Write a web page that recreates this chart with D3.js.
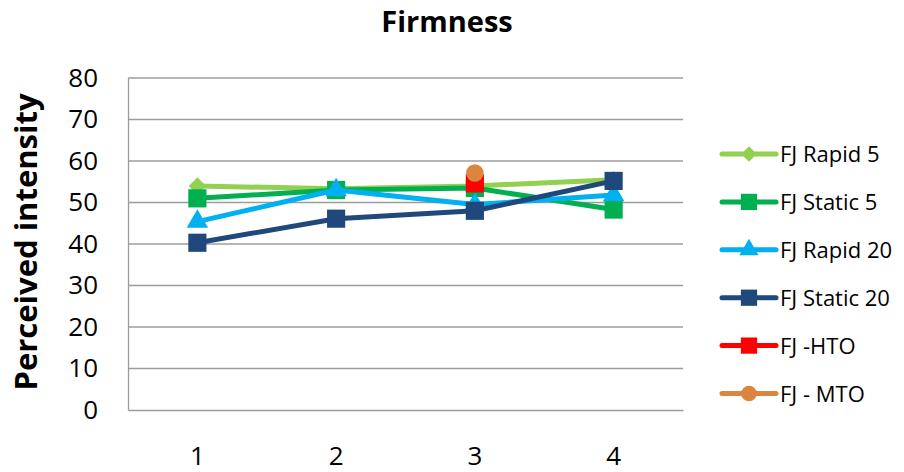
<!DOCTYPE html>
<html>
<head>
<meta charset="utf-8">
<script src="https://cdn.jsdelivr.net/npm/d3@7"></script>
<style>
  html, body { margin: 0; padding: 0; background: #fff; }
  svg { display: block; font-family: "Open Sans", "Noto Sans", sans-serif; }
</style>
</head>
<body>
<svg id="chart" width="904" height="472"></svg>
<script>
// Sampling sessions along the x axis
const categories = ["1", "2", "3", "4"];

// Perceived firmness per product
const rapid5   = [54.0, 53.3, 54.0, 55.5];
const static5  = [51.0, 53.0, 53.5, 48.3];
const rapid20  = [45.4, 53.0, 49.5, 51.8];
const static20 = [40.3, 46.1, 48.0, 55.2];
const hto      = [null, null, 54.6, null];
const mto      = [null, null, 57.1, null];

const seriesNames = ["FJ Rapid 5", "FJ Static 5", "FJ Rapid 20", "FJ Static 20", "FJ -HTO", "FJ - MTO"];
const yTicks = [0, 10, 20, 30, 40, 50, 60, 70, 80];

const series = [
  { name: seriesNames[0], values: rapid5,   color: "#92D050", symbol: d3.symbolDiamond2 },
  { name: seriesNames[1], values: static5,  color: "#00B050", symbol: d3.symbolSquare },
  { name: seriesNames[2], values: rapid20,  color: "#00B0F0", symbol: d3.symbolTriangle },
  { name: seriesNames[3], values: static20, color: "#1F497D", symbol: d3.symbolSquare },
  { name: seriesNames[4], values: hto,      color: "#FF0000", symbol: d3.symbolSquare },
  { name: seriesNames[5], values: mto,      color: "#DC853E", symbol: d3.symbolCircle }
];

const svg = d3.select("#chart");
const plot = { left: 128, right: 683, top: 78, bottom: 410 };

const x = d3.scaleBand().domain(categories).range([plot.left, plot.right]);
const y = d3.scaleLinear().domain([0, 80]).range([plot.bottom, plot.top]);
const cx = c => x(c) + x.bandwidth() / 2;

// Title
svg.append("text")
  .attr("x", 447).attr("y", 32)
  .attr("text-anchor", "middle")
  .attr("font-size", 29).attr("font-weight", "bold")
  .attr("fill", "#000")
  .text("Firmness");

// Horizontal gridlines
svg.append("g")
  .selectAll("line")
  .data(yTicks.filter(t => t > 0))
  .join("line")
  .attr("x1", plot.left).attr("x2", plot.right)
  .attr("y1", d => y(d)).attr("y2", d => y(d))
  .attr("stroke", "#9c9c9c").attr("stroke-width", 1.3);

// Y axis
const yAxis = svg.append("g")
  .attr("transform", `translate(${plot.left},0)`)
  .call(d3.axisLeft(y).tickValues(yTicks).tickSize(0).tickPadding(30));
yAxis.select(".domain").attr("stroke", "#9c9c9c").attr("stroke-width", 1.3);
yAxis.selectAll("text")
  .attr("font-size", 26).attr("font-family", "Open Sans")
  .attr("fill", "#000");

// X axis
const xAxis = svg.append("g")
  .attr("transform", `translate(0,${plot.bottom})`)
  .call(d3.axisBottom(x).tickSize(0).tickPadding(0));
xAxis.select(".domain").attr("stroke", "#9c9c9c").attr("stroke-width", 1.3);
xAxis.selectAll("text")
  .attr("font-size", 26).attr("font-family", "Open Sans")
  .attr("fill", "#000")
  .attr("dy", null)
  .attr("y", 55);

// Y axis title
svg.append("text")
  .attr("transform", `translate(37,${(plot.top + plot.bottom) / 2 - 2}) rotate(-90)`)
  .attr("text-anchor", "middle")
  .attr("font-size", 31).attr("font-weight", "bold")
  .attr("fill", "#000")
  .text("Perceived intensity");

// Series: lines with markers
const line = d3.line()
  .defined(d => d.v != null)
  .x(d => cx(d.c))
  .y(d => y(d.v));

const markerSize = s => (s === d3.symbolCircle ? 240 : s === d3.symbolTriangle ? 200 : s === d3.symbolDiamond2 ? 190 : 330);

series.forEach(s => {
  const pts = categories.map((c, i) => ({ c, v: s.values[i] }));
  const g = svg.append("g");
  g.append("path")
    .attr("d", line(pts))
    .attr("fill", "none")
    .attr("stroke", s.color)
    .attr("stroke-width", 5)
    .attr("stroke-linejoin", "round")
    .attr("stroke-linecap", "round");
  g.selectAll("path.marker")
    .data(pts.filter(d => d.v != null))
    .join("path")
    .attr("class", "marker")
    .attr("transform", d => `translate(${cx(d.c)},${y(d.v)})`)
    .attr("d", d3.symbol().type(s.symbol).size(markerSize(s.symbol)))
    .attr("fill", s.color);
});

// Legend
const legend = svg.append("g");
series.forEach((s, i) => {
  const ly = 154 + i * 47.9;
  const g = legend.append("g").attr("transform", `translate(0,${ly})`);
  g.append("line")
    .attr("x1", 722).attr("x2", 776)
    .attr("stroke", s.color).attr("stroke-width", 5)
    .attr("stroke-linecap", "round");
  g.append("path")
    .attr("transform", "translate(749,0)")
    .attr("d", d3.symbol().type(s.symbol).size(markerSize(s.symbol) * 0.8))
    .attr("fill", s.color);
  g.append("text")
    .attr("x", 780).attr("y", 8)
    .attr("font-size", 22)
    .attr("fill", "#000")
    .text(s.name);
});
</script>
</body>
</html>
